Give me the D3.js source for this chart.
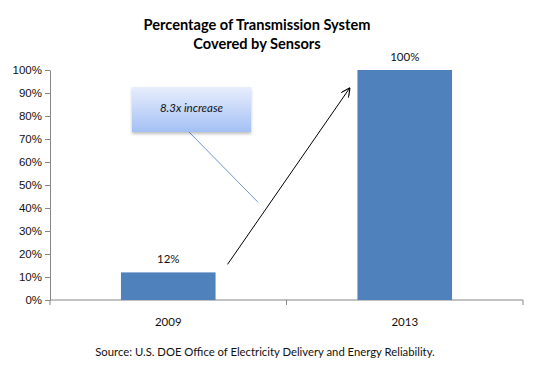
<!DOCTYPE html>
<html>
<head>
<meta charset="utf-8">
<script src="https://cdn.jsdelivr.net/npm/d3@7/dist/d3.min.js"></script>
<style>
  body { margin: 0; background: #fff; }
  svg { display: block; font-family: Lato, "Open Sans", sans-serif; }
</style>
</head>
<body>
<div id="chart"></div>
<script>
// ---------------- data ----------------
const years = ["2009", "2013"];
const coverage = [0.12, 1.00];
const yTicks = [0, 0.1, 0.2, 0.3, 0.4, 0.5, 0.6, 0.7, 0.8, 0.9, 1.0];
const titleLines = ["Percentage of Transmission System", "Covered by Sensors"];
const sourceText = "Source:  U.S. DOE Office of Electricity Delivery and Energy Reliability.";
const calloutText = "8.3x increase";

const width = 539, height = 377;
const margin = { top: 70, right: 16, bottom: 77, left: 50 };

const svg = d3.select("#chart").append("svg")
  .attr("width", width)
  .attr("height", height);

// ---------------- scales ----------------
const x = d3.scaleBand()
  .domain(years)
  .range([margin.left, width - margin.right])
  .paddingInner(0.6)
  .paddingOuter(0.3);

const y = d3.scaleLinear()
  .domain([0, 1])
  .range([height - margin.bottom, margin.top]);

// ---------------- title ----------------
svg.append("text")
  .attr("x", 257)
  .attr("y", 30)
  .attr("text-anchor", "middle")
  .attr("font-size", 14.6)
  .attr("font-weight", "bold")
  .attr("fill", "#000")
  .selectAll("tspan")
  .data(titleLines)
  .join("tspan")
  .attr("x", 257)
  .attr("dy", (d, i) => i === 0 ? 0 : 19)
  .text(d => d);

// ---------------- y axis ----------------
const yAxis = svg.append("g")
  .attr("transform", `translate(${margin.left},0)`)
  .call(d3.axisLeft(y).tickValues(yTicks).tickFormat(d3.format(".0%")).tickSize(5).tickSizeOuter(0));
yAxis.select(".domain").attr("stroke", "#868686");
yAxis.selectAll(".tick line").attr("stroke", "#868686");
yAxis.selectAll(".tick text")
  .attr("font-size", 11.5)
  .attr("fill", "#111")
  .attr("x", -8);

// ---------------- x axis ----------------
const x0 = margin.left, x1 = width - margin.right;
const baseY = y(0);
svg.append("line")
  .attr("x1", x0).attr("x2", x1)
  .attr("y1", baseY).attr("y2", baseY)
  .attr("stroke", "#868686");
// category boundary ticks
const boundaries = [x0, (x0 + x1) / 2, x1];
svg.selectAll(".xtick")
  .data(boundaries)
  .join("line")
  .attr("x1", d => d).attr("x2", d => d)
  .attr("y1", baseY).attr("y2", baseY + 5)
  .attr("stroke", "#868686");

svg.selectAll(".xlabel")
  .data(years)
  .join("text")
  .attr("x", d => x(d) + x.bandwidth() / 2)
  .attr("y", baseY + 26)
  .attr("text-anchor", "middle")
  .attr("font-size", 11.5)
  .attr("fill", "#111")
  .text(d => d);

// ---------------- bars ----------------
svg.selectAll(".bar")
  .data(coverage)
  .join("rect")
  .attr("x", (d, i) => x(years[i]))
  .attr("y", d => y(d))
  .attr("width", x.bandwidth())
  .attr("height", d => baseY - y(d))
  .attr("fill", "#4f81bd");

svg.selectAll(".vlabel")
  .data(coverage)
  .join("text")
  .attr("x", (d, i) => x(years[i]) + x.bandwidth() / 2)
  .attr("y", d => y(d) - 9)
  .attr("text-anchor", "middle")
  .attr("font-size", 11.5)
  .attr("fill", "#111")
  .text(d => d3.format(".0%")(d));

// ---------------- arrow ----------------
const defs = svg.append("defs");
defs.append("marker")
  .attr("id", "arrow")
  .attr("viewBox", "0 0 10 10")
  .attr("refX", 9).attr("refY", 5)
  .attr("markerWidth", 9).attr("markerHeight", 9)
  .attr("orient", "auto")
  .append("path")
  .attr("d", "M0,0 L10,5 L0,10")
  .attr("fill", "none")
  .attr("stroke", "#000")
  .attr("stroke-width", 1.2);

svg.append("line")
  .attr("x1", x(years[0]) + x.bandwidth() + 12)
  .attr("y1", y(0.155))
  .attr("x2", x(years[1]) - 8)
  .attr("y2", y(0.92))
  .attr("stroke", "#000")
  .attr("stroke-width", 1)
  .attr("marker-end", "url(#arrow)");

// ---------------- callout ----------------
const grad = defs.append("linearGradient")
  .attr("id", "boxGrad")
  .attr("x1", 0).attr("y1", 0).attr("x2", 0).attr("y2", 1);
grad.append("stop").attr("offset", "0%").attr("stop-color", "#e8eefc");
grad.append("stop").attr("offset", "100%").attr("stop-color", "#a3c0f5");

const shadow = defs.append("filter").attr("id", "shadow")
  .attr("x", "-20%").attr("y", "-20%").attr("width", "140%").attr("height", "150%");
shadow.append("feDropShadow")
  .attr("dx", 0).attr("dy", 2).attr("stdDeviation", 1.5)
  .attr("flood-color", "#000").attr("flood-opacity", 0.25);

const box = { x: 132, y: 87, w: 119, h: 45 };

svg.append("line")
  .attr("x1", box.x + 57).attr("y1", box.y + box.h)
  .attr("x2", 258).attr("y2", y(0.425))
  .attr("stroke", "#6d93cf")
  .attr("stroke-width", 1);

svg.append("rect")
  .attr("x", box.x).attr("y", box.y)
  .attr("width", box.w).attr("height", box.h)
  .attr("fill", "url(#boxGrad)")
  .attr("filter", "url(#shadow)");

svg.append("text")
  .attr("x", box.x + box.w / 2)
  .attr("y", box.y + 25)
  .attr("text-anchor", "middle")
  .attr("font-size", 11.5)
  .attr("font-style", "italic")
  .attr("fill", "#111")
  .text(calloutText);

// ---------------- source ----------------
svg.append("text")
  .attr("x", 265)
  .attr("y", 356)
  .attr("text-anchor", "middle")
  .attr("font-size", 11.3)
  .attr("fill", "#111")
  .text(sourceText);
</script>
</body>
</html>
